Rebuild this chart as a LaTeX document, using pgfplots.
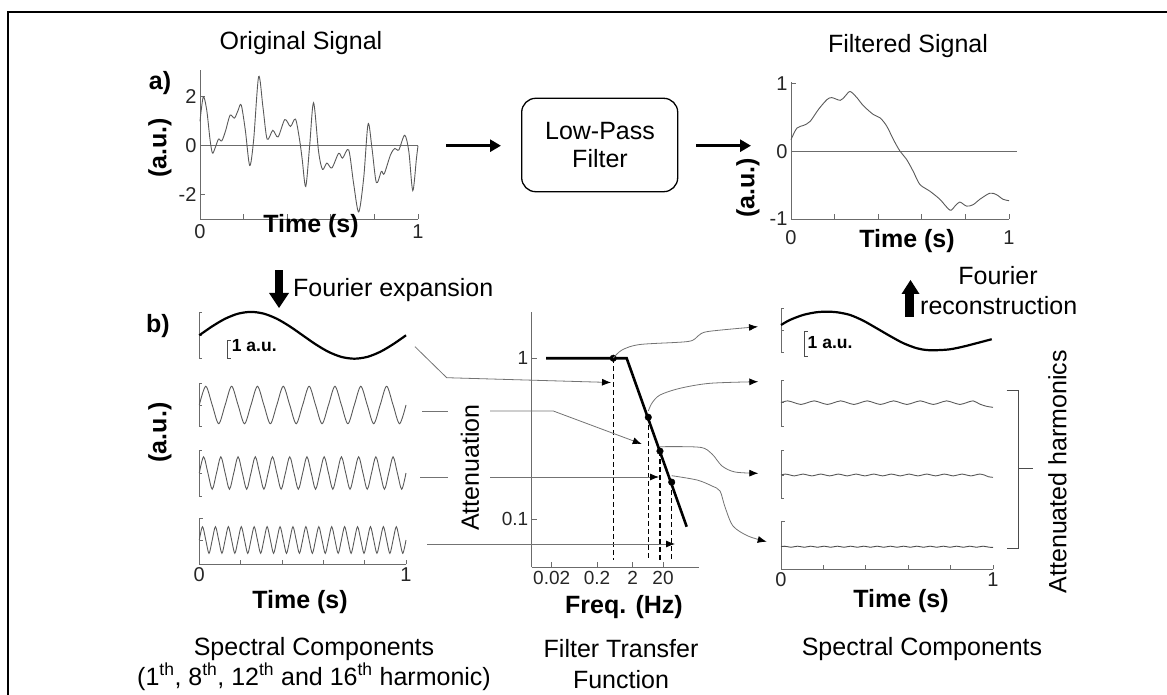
\documentclass[border=0pt]{standalone}
\usepackage{fontspec}
\setmainfont{Liberation Sans}
\usepackage{pgfplots}
\pgfplotsset{compat=1.18}
\usetikzlibrary{arrows.meta}

\definecolor{axgray}{gray}{0.42}
\definecolor{siggray}{gray}{0.35}
\newcommand{\ftxt}{\fontsize{25}{28}\selectfont}
\newcommand{\fbold}{\fontsize{25}{28}\selectfont\bfseries}
\newcommand{\ftick}{\fontsize{20}{22}\selectfont}

\pgfplotsset{
  base/.style={
    axis line style={axgray, line width=0.8pt},
    tick style={axgray, line width=0.8pt},
    tick align=inside,
    major tick length=5pt,
    ticklabel style={font=\ftick, text=black!85},
    clip=false,
  },
  stripbase/.style={
    base, anchor=south west, x=206.7pt, y=18pt, xmin=0, xmax=1,
    yticklabels={,,}, major tick length=3pt,
  },
  strip/.style={
    stripbase, axis x line=none, axis y line*=left, xtick=\empty,
  },
  botstrip/.style={
    stripbase, axis lines*=left, xtick={0,0.2,0.4,0.6,0.8,1},
    xticklabels={0,,,,,1}, major tick length=4pt,
  },
  wave/.style={siggray, line width=0.9pt, smooth},
  bold wave/.style={black, line width=2.2pt, smooth},
}
\tikzset{
  conn/.style={draw=black!55, line width=0.8pt, -{Latex[length=9pt,width=7pt,color=black]}},
  plain/.style={draw=black!55, line width=0.8pt},
}

\begin{document}
\begin{tikzpicture}[x=1pt,y=1pt]
\useasboundingbox (0,0) rectangle (1167,694);
\draw[line width=1.5pt] (8,-5) -- (8,682) -- (1170,682);

% ---- a) original signal
\begin{axis}[base, at={(200pt,475pt)}, anchor=south west, scale only axis,
  width=218pt, height=149pt, axis lines*=left,
  xmin=0, xmax=1, ymin=-3, ymax=3.1,
  xtick={0,0.2,0.4,0.6,0.8,1}, xticklabels={0,,,,,1},
  xticklabel style={yshift=-2pt},
  ytick={-2,0,2}, yticklabels={-2,0,2}]
\addplot[axgray, line width=0.8pt] coordinates {(0,0) (1,0)};
\addplot[wave, tension=0.5] coordinates {
 (0,1.0) (0.015,2.0) (0.031,1.45) (0.046,0.25) (0.057,-0.3) (0.069,-0.1)
 (0.085,0.27) (0.1,0.2) (0.118,0.63) (0.138,1.25) (0.158,1.13) (0.174,1.43)
 (0.189,1.67) (0.208,0.63) (0.228,-0.81) (0.246,0.23) (0.269,2.83) (0.289,1.56)
 (0.308,0.27) (0.334,0.63) (0.358,0.36) (0.389,1.07) (0.415,0.79) (0.438,1.09)
 (0.457,0.23) (0.469,-0.57) (0.485,-1.67) (0.503,0.0) (0.521,1.76) (0.544,-0.24)
 (0.562,-0.97) (0.582,-0.71) (0.605,-0.91) (0.636,-0.31) (0.654,-0.51) (0.682,-0.17)
 (0.705,-1.57) (0.728,-2.71) (0.751,-1.31) (0.771,0.89) (0.789,-0.11) (0.809,-1.51)
 (0.832,-1.05) (0.845,-1.15) (0.874,-0.37) (0.894,-0.11) (0.912,-0.17) (0.939,0.43)
 (0.958,-0.24) (0.976,-1.84) (0.993,-0.51) (1.0,0)};
\end{axis}

% ---- filtered signal
\begin{axis}[base, at={(791pt,475pt)}, anchor=south west, scale only axis,
  width=218pt, height=137pt, axis lines*=left,
  xmin=0, xmax=1, ymin=-1, ymax=1.02,
  xtick={0,0.2,0.4,0.6,0.8,1}, xticklabels={0,,,,,1},
  xticklabel style={yshift=-8pt},
  ytick={-1,0,1}, yticklabels={-1,0,1}]
\addplot[axgray, line width=0.8pt] coordinates {(0,0) (1.035,0)};
\addplot[wave, tension=0.5] coordinates {
 (0,0.17) (0.027,0.34) (0.058,0.38) (0.088,0.44) (0.127,0.62) (0.165,0.76)
 (0.187,0.79) (0.226,0.75) (0.248,0.81) (0.271,0.88) (0.302,0.79) (0.332,0.67)
 (0.378,0.54) (0.409,0.49) (0.439,0.37) (0.47,0.17) (0.5,0) (0.53,-0.12)
 (0.561,-0.3) (0.591,-0.49) (0.637,-0.59) (0.683,-0.71) (0.729,-0.87) (0.752,-0.81)
 (0.774,-0.75) (0.805,-0.81) (0.835,-0.79) (0.866,-0.71) (0.912,-0.62) (0.942,-0.64)
 (0.973,-0.71) (1,-0.73)};
\end{axis}

% ---- b) spectral components, left
\begin{axis}[strip, at={(199.3pt,335.3pt)}, ymin=-1.3, ymax=1.28, ytick={-1.3,0,1.28}]
\addplot[bold wave] coordinates {
 (0,0) (0.0625,0.498) (0.125,0.919) (0.1875,1.201) (0.25,1.3) (0.3125,1.201)
 (0.375,0.919) (0.4375,0.498) (0.5,0) (0.5625,-0.498) (0.625,-0.919) (0.6875,-1.201)
 (0.75,-1.3) (0.8125,-1.201) (0.875,-0.919) (0.9375,-0.498) (1,0)};
\end{axis}
\begin{axis}[strip, at={(199.3pt,267.4pt)}, ymin=-1.2, ymax=1.2, ytick={-1.2,0,1.2}]
\addplot[wave] coordinates {
 (0,0) (0.03125,1.04) (0.0625,0) (0.09375,-1.04) (0.125,0) (0.15625,1.04) (0.1875,0)
 (0.21875,-1.04) (0.25,0) (0.28125,1.04) (0.3125,0) (0.34375,-1.04) (0.375,0)
 (0.40625,1.04) (0.4375,0) (0.46875,-1.04) (0.5,0) (0.53125,1.04) (0.5625,0)
 (0.59375,-1.04) (0.625,0) (0.65625,1.04) (0.6875,0) (0.71875,-1.04) (0.75,0)
 (0.78125,1.04) (0.8125,0) (0.84375,-1.04) (0.875,0) (0.90625,1.04) (0.9375,0)
 (0.96875,-1.04) (1,0)};
\end{axis}
\begin{axis}[strip, at={(199.3pt,197.6pt)}, ymin=-1.3, ymax=1.28, ytick={-1.3,0,1.28}]
\addplot[wave] coordinates {
 (0,0) (0.02083,0.9) (0.04167,0) (0.0625,-0.9) (0.08333,0) (0.10417,0.9) (0.125,0)
 (0.14583,-0.9) (0.16667,0) (0.1875,0.9) (0.20833,0) (0.22917,-0.9) (0.25,0)
 (0.27083,0.9) (0.29167,0) (0.3125,-0.9) (0.33333,0) (0.35417,0.9) (0.375,0)
 (0.39583,-0.9) (0.41667,0) (0.4375,0.9) (0.45833,0) (0.47917,-0.9) (0.5,0)
 (0.52083,0.9) (0.54167,0) (0.5625,-0.9) (0.58333,0) (0.60417,0.9) (0.625,0)
 (0.64583,-0.9) (0.66667,0) (0.6875,0.9) (0.70833,0) (0.72917,-0.9) (0.75,0)
 (0.77083,0.9) (0.79167,0) (0.8125,-0.9) (0.83333,0) (0.85417,0.9) (0.875,0)
 (0.89583,-0.9) (0.91667,0) (0.9375,0.9) (0.95833,0) (0.97917,-0.9) (1,0)};
\end{axis}
\begin{axis}[botstrip, at={(199.3pt,129.7pt)}, ymin=-1.35, ymax=1.2, ytick={-1.35,0,1.2}]
\addplot[wave] coordinates {
 (0,0) (0.0156,0.74) (0.0313,0) (0.0469,-0.74) (0.0625,0) (0.0781,0.74) (0.0938,0)
 (0.1094,-0.74) (0.125,0) (0.1406,0.74) (0.1563,0) (0.1719,-0.74) (0.1875,0)
 (0.2031,0.74) (0.2188,0) (0.2344,-0.74) (0.25,0) (0.2656,0.74) (0.2813,0)
 (0.2969,-0.74) (0.3125,0) (0.3281,0.74) (0.3438,0) (0.3594,-0.74) (0.375,0)
 (0.3906,0.74) (0.4063,0) (0.4219,-0.74) (0.4375,0) (0.4531,0.74) (0.4688,0)
 (0.4844,-0.74) (0.5,0) (0.5156,0.74) (0.5313,0) (0.5469,-0.74) (0.5625,0)
 (0.5781,0.74) (0.5938,0) (0.6094,-0.74) (0.625,0) (0.6406,0.74) (0.6563,0)
 (0.6719,-0.74) (0.6875,0) (0.7031,0.74) (0.7188,0) (0.7344,-0.74) (0.75,0)
 (0.7656,0.74) (0.7813,0) (0.7969,-0.74) (0.8125,0) (0.8281,0.74) (0.8438,0)
 (0.8594,-0.74) (0.875,0) (0.8906,0.74) (0.9063,0) (0.9219,-0.74) (0.9375,0)
 (0.9531,0.74) (0.9688,0) (0.9844,-0.74) (1,0)};
\end{axis}

% ---- b) spectral components, right
\begin{axis}[strip, x=212pt, at={(781pt,341.1pt)}, ymin=-1.23, ymax=1.27, ytick={-1.23,0,1.27}]
\addplot[bold wave] coordinates {
 (0,0.32) (0.042,0.6) (0.105,0.88) (0.168,1.03) (0.216,1.06) (0.263,1.03)
 (0.325,0.88) (0.388,0.56) (0.451,0.14) (0.514,-0.29) (0.577,-0.69) (0.64,-0.97)
 (0.687,-1.07) (0.734,-1.08) (0.797,-1.03) (0.86,-0.88) (0.923,-0.69) (0.994,-0.47)};
\end{axis}
\begin{axis}[strip, x=212pt, at={(781pt,267.4pt)}, ymin=-1.33, ymax=1.26, ytick={-1.33,0,1.26}]
\addplot[wave] coordinates {
 (0,0) (0.03125,0.1) (0.0625,0) (0.09375,-0.1) (0.125,0) (0.15625,0.1) (0.1875,0)
 (0.21875,-0.1) (0.25,0) (0.28125,0.1) (0.3125,0) (0.34375,-0.1) (0.375,0)
 (0.40625,0.1) (0.4375,0) (0.46875,-0.1) (0.5,0) (0.53125,0.1) (0.5625,0)
 (0.59375,-0.1) (0.625,0) (0.65625,0.1) (0.6875,0) (0.71875,-0.1) (0.75,0)
 (0.78125,0.1) (0.8125,0) (0.84375,-0.1) (0.875,0) (0.90625,0.1) (0.9375,-0.08)
 (0.96875,-0.2) (1,-0.26)};
\end{axis}
\begin{axis}[strip, x=212pt, at={(781pt,195.8pt)}, ymin=-1.29, ymax=1.39, ytick={-1.29,0,1.39}]
\addplot[wave] coordinates {
 (0,0) (0.02083,0.05) (0.04167,0) (0.0625,-0.05) (0.08333,0) (0.10417,0.05) (0.125,0)
 (0.14583,-0.05) (0.16667,0) (0.1875,0.05) (0.20833,0) (0.22917,-0.05) (0.25,0)
 (0.27083,0.05) (0.29167,0) (0.3125,-0.05) (0.33333,0) (0.35417,0.05) (0.375,0)
 (0.39583,-0.05) (0.41667,0) (0.4375,0.05) (0.45833,0) (0.47917,-0.05) (0.5,0)
 (0.52083,0.05) (0.54167,0) (0.5625,-0.05) (0.58333,0) (0.60417,0.05) (0.625,0)
 (0.64583,-0.05) (0.66667,0) (0.6875,0.05) (0.70833,0) (0.72917,-0.05) (0.75,0)
 (0.77083,0.05) (0.79167,0) (0.8125,-0.05) (0.83333,0) (0.85417,0.05) (0.875,0)
 (0.89583,-0.05) (0.91667,0) (0.9375,0.05) (0.95833,0) (0.97917,-0.1) (1,-0.13)};
\end{axis}
\begin{axis}[botstrip, x=212pt, at={(781pt,124.6pt)}, ymin=-1.26, ymax=1.39, ytick={-1.26,0,1.39}]
\addplot[wave, black!70] coordinates {
 (0,0) (0.0156,0.03) (0.0313,0) (0.0469,-0.03) (0.0625,0) (0.0781,0.03) (0.0938,0)
 (0.1094,-0.03) (0.125,0) (0.1406,0.03) (0.1563,0) (0.1719,-0.03) (0.1875,0)
 (0.2031,0.03) (0.2188,0) (0.2344,-0.03) (0.25,0) (0.2656,0.03) (0.2813,0)
 (0.2969,-0.03) (0.3125,0) (0.3281,0.03) (0.3438,0) (0.3594,-0.03) (0.375,0)
 (0.3906,0.03) (0.4063,0) (0.4219,-0.03) (0.4375,0) (0.4531,0.03) (0.4688,0)
 (0.4844,-0.03) (0.5,0) (0.5156,0.03) (0.5313,0) (0.5469,-0.03) (0.5625,0)
 (0.5781,0.03) (0.5938,0) (0.6094,-0.03) (0.625,0) (0.6406,0.03) (0.6563,0)
 (0.6719,-0.03) (0.6875,0) (0.7031,0.03) (0.7188,0) (0.7344,-0.03) (0.75,0)
 (0.7656,0.03) (0.7813,0) (0.7969,-0.03) (0.8125,0) (0.8281,0.03) (0.8438,0)
 (0.8594,-0.03) (0.875,0) (0.8906,0.03) (0.9063,0) (0.9219,-0.03) (0.9375,0)
 (0.9531,0.03) (0.9688,0) (0.9844,-0.03) (1,-0.04)};
\end{axis}

% ---- filter transfer function
\begin{axis}[base, at={(531.7pt,126.7pt)}, anchor=south west, scale only axis,
  width=167.3pt, height=255.6pt, axis lines*=left,
  xmode=log, ymode=log, xmin=0.002255, xmax=164.8, ymin=0.0503, ymax=1.946,
  xtick={0.0086,0.179,1.95,14.8}, xticklabels={0.02,0.2,2,20},
  ytick={0.1,1}, yticklabels={0.1,1}, xminorticks=false, yminorticks=false,
  ticklabel style={font=\fontsize{19}{20}\selectfont}]
\addplot[black, line width=1.2pt, dash pattern=on 5pt off 3pt] coordinates {(0.531,1) (0.531,0.0559)};
\addplot[black, line width=1.2pt, dash pattern=on 5pt off 3pt] coordinates {(5.53,0.43) (5.53,0.0559)};
\addplot[black, line width=1.2pt, dash pattern=on 5pt off 3pt] coordinates {(12.1,0.265) (12.1,0.0559)};
\addplot[black, line width=1.2pt, dash pattern=on 5pt off 3pt] coordinates {(26.5,0.17) (26.5,0.0559)};
\addplot[black, line width=2.6pt] coordinates {(0.00588,1) (1.30,1) (72.3,0.0899)};
\addplot[only marks, mark=*, mark size=3.3pt, black] coordinates {(0.531,1) (5.53,0.43) (12.1,0.265) (26.5,0.17)};
\end{axis}

% ---- top flow
\draw[line width=3.3pt, -{Triangle[length=11pt,width=12pt]}] (446,548.3) -- (501,548.3);
\draw[line width=3.3pt, -{Triangle[length=11pt,width=12pt]}] (696,548.3) -- (751,548.3);
\draw[line width=1.3pt, rounded corners=14pt] (521.7,502.3) rectangle (677.7,595.7);
\node[anchor=base, font=\ftxt] at (600,554) {Low-Pass};
\node[anchor=base, font=\ftxt] at (600,526) {Filter};

\fill (274.5,424) rectangle (283,400);
\fill (269,401) -- (289,401) -- (279,386) -- cycle;
\fill (905,377) rectangle (914,401);
\fill (901.5,400) -- (919.5,400) -- (910.5,414) -- cycle;

% ---- texts
\node[anchor=base, font=\ftxt] at (301,644) {Original Signal};
\node[anchor=base, font=\ftxt] at (908,641) {Filtered Signal};
\node[anchor=base, font=\fbold] at (160,604) {a)};
\node[rotate=90, font=\fbold] at (160,546) {(a.u.)};
\node[anchor=base, font=\fbold] at (311,461) {Time (s)};
\node[anchor=base, font=\fbold] at (907,446) {Time (s)};
\node[rotate=90, font=\fbold] at (748,506) {(a.u.)};
\node[anchor=base west, inner sep=0pt, font=\ftxt] at (293,397) {Fourier expansion};
\node[anchor=base, font=\ftxt] at (998,409) {Fourier};
\node[anchor=base west, inner sep=0pt, font=\ftxt] at (920,379) {reconstruction};

\node[anchor=base, font=\fbold] at (158,361) {b)};
\node[rotate=90, font=\fbold] at (160,261.5) {(a.u.)};
\draw[black!70, line width=0.8pt] (230.5,353.3) -- (227.3,353.3) -- (227.3,335.7) -- (230.5,335.7);
\node[anchor=base west, inner sep=0pt, font=\fontsize{17.5}{20}\selectfont\bfseries] at (231.7,342.3) {1 a.u.};
\draw[black!70, line width=0.8pt] (807.5,362.3) -- (804.3,362.3) -- (804.3,338) -- (807.5,338);
\node[anchor=base west, inner sep=0pt, font=\fontsize{17.5}{20}\selectfont\bfseries] at (807.5,345.7) {1 a.u.};

\node[anchor=base, font=\fbold] at (300,85.7) {Time (s)};
\node[anchor=base, font=\fbold] at (901,87) {Time (s)};
\node[anchor=base, font=\fbold] at (624,80.7) {Freq. (Hz)};
\node[rotate=90, font=\ftxt, fill=white, inner sep=1pt] at (470,226.5) {Attenuation};
\node[rotate=90, font=\ftxt] at (1057.5,222.3) {Attenuated harmonics};
\draw[black!70, line width=0.9pt] (1006.7,304) -- (1018.3,304) -- (1018.3,146) -- (1006.7,146);
\draw[black!70, line width=0.9pt] (1018.3,226) -- (1033,226);

\node[anchor=base, font=\ftxt] at (314,39) {Spectral Components};
\node[anchor=base, font=\ftxt] at (314,9) {(1\textsuperscript{th}, 8\textsuperscript{th}, 12\textsuperscript{th} and 16\textsuperscript{th} harmonic)};
\node[anchor=base, font=\ftxt] at (621,37) {Filter Transfer};
\node[anchor=base, font=\ftxt] at (621,6) {Function};
\node[anchor=base, font=\ftxt] at (922,39) {Spectral Components};

% ---- connectors
\draw[conn] (415,347.3) -- (446.7,316.3) -- (611,311.5);
\draw[plain] (422,283) -- (448,283);
\draw[conn] (490,283) -- (553.3,283) -- (641.7,250);
\draw[plain] (420,217) -- (448,217);
\draw[conn] (490,217) -- (659,217);
\draw[conn] (427,150) -- (675,150);

\draw[conn] plot[smooth] coordinates {(613.3,336) (622,344) (640,349.5) (688,352.5) (698,358) (708,362.5) (758,367.3)};
\draw[conn] plot[smooth] coordinates {(648.3,283) (652,291) (660,299) (680,305.7) (710,310.7) (758.3,312.3)};
\draw[conn] plot[smooth] coordinates {(660,247.3) (700,246.7) (712,240) (722,228) (735,222) (758.3,220.7)};
\draw[conn] plot[smooth] coordinates {(671.7,218.3) (697,214) (712,208) (720,203) (725,187) (733,168) (748,158) (766.7,152.3)};
\end{tikzpicture}
\end{document}
